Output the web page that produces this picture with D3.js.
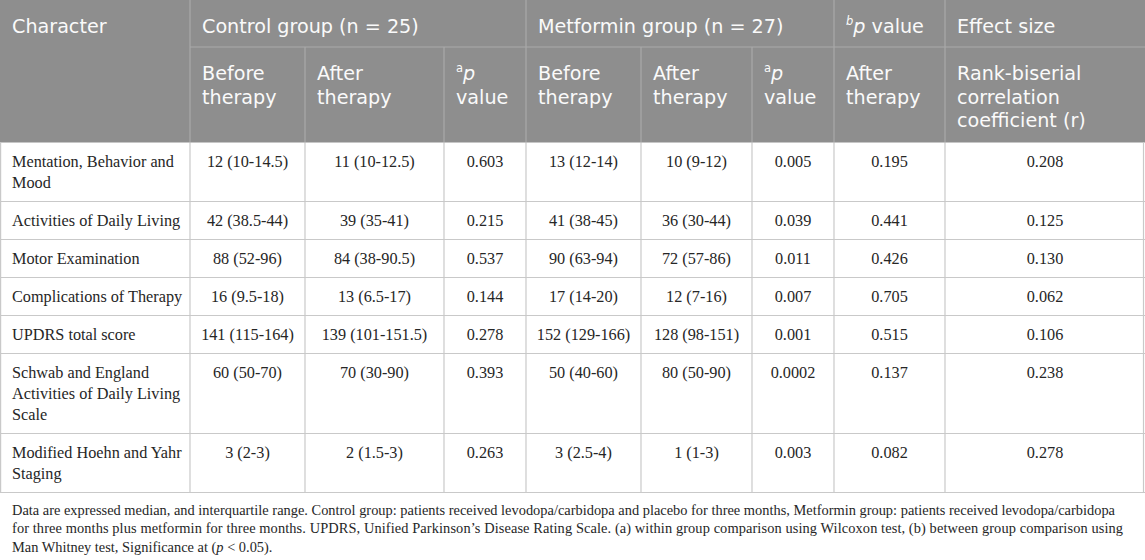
<!DOCTYPE html>
<html><head><meta charset="utf-8">
<script src="https://cdn.jsdelivr.net/npm/d3@7"></script>
<style>body{margin:0;background:#fff;overflow:hidden}</style>
</head><body><svg id="c" width="1145" height="560"></svg>
<script>
// ---------- data ----------
const characters = [
  "Mentation, Behavior and Mood",
  "Activities of Daily Living",
  "Motor Examination",
  "Complications of Therapy",
  "UPDRS total score",
  "Schwab and England Activities of Daily Living Scale",
  "Modified Hoehn and Yahr Staging"
];
const controlBefore = ["12 (10-14.5)","42 (38.5-44)","88 (52-96)","16 (9.5-18)","141 (115-164)","60 (50-70)","3 (2-3)"];
const controlAfter  = ["11 (10-12.5)","39 (35-41)","84 (38-90.5)","13 (6.5-17)","139 (101-151.5)","70 (30-90)","2 (1.5-3)"];
const controlP      = ["0.603","0.215","0.537","0.144","0.278","0.393","0.263"];
const metforminBefore = ["13 (12-14)","41 (38-45)","90 (63-94)","17 (14-20)","152 (129-166)","50 (40-60)","3 (2.5-4)"];
const metforminAfter  = ["10 (9-12)","36 (30-44)","72 (57-86)","12 (7-16)","128 (98-151)","80 (50-90)","1 (1-3)"];
const metforminP      = ["0.005","0.039","0.011","0.007","0.001","0.0002","0.003"];
const betweenP        = ["0.195","0.441","0.426","0.705","0.515","0.137","0.082"];
const effectR         = ["0.208","0.125","0.130","0.062","0.106","0.238","0.278"];

const columnKeys = ["character","cBefore","cAfter","cP","mBefore","mAfter","mP","bP","r"];
const groupHeaders = [
  {label:[[{t:"Character"}]], from:"character"},
  {label:[[{t:"Control group (n = 25)"}]], from:"cBefore"},
  {label:[[{t:"Metformin group (n = 27)"}]], from:"mBefore"},
  {label:[[{t:"b",sup:true,it:true},{t:"p",it:true},{t:" value"}]], from:"bP"},
  {label:[[{t:"Effect size"}]], from:"r"}
];
const subHeaders = [
  {col:"cBefore", label:[[{t:"Before"}],[{t:"therapy"}]]},
  {col:"cAfter",  label:[[{t:"After"}],[{t:"therapy"}]]},
  {col:"cP",      label:[[{t:"a",sup:true},{t:"p",it:true}],[{t:"value"}]]},
  {col:"mBefore", label:[[{t:"Before"}],[{t:"therapy"}]]},
  {col:"mAfter",  label:[[{t:"After"}],[{t:"therapy"}]]},
  {col:"mP",      label:[[{t:"a",sup:true},{t:"p",it:true}],[{t:"value"}]]},
  {col:"bP",      label:[[{t:"After"}],[{t:"therapy"}]]},
  {col:"r",       label:[[{t:"Rank-biserial"}],[{t:"correlation"}],[{t:"coefficient (r)"}]]}
];
const footnoteLines = [
  [{t:"Data are expressed median, and interquartile range. Control group: patients received levodopa/carbidopa and placebo for three months, Metformin group: patients received levodopa/carbidopa"}],
  [{t:"for three months plus metformin for three months. UPDRS, Unified Parkinson\u2019s Disease Rating Scale. (a) within group comparison using Wilcoxon test, (b) between group comparison using"}],
  [{t:"Man Whitney test, Significance at ("},{t:"p",it:true},{t:" < 0.05)."}]
];

// ---------- layout ----------
const W = 1145;
const svg = d3.select("#c");
const colX = d3.scaleOrdinal().domain(columnKeys).range([0,190,305,444,526,641,752,834,945]);
const colR = k => { const i = columnKeys.indexOf(k); return i === columnKeys.length-1 ? W : colX(columnKeys[i+1]); };

const headFont = "'DejaVu Sans', Verdana, sans-serif";
const bodyFont = "'Liberation Serif', 'Times New Roman', serif";
const headBg = "#8e8e8e", headLine = "#a9a9a9", bodyLine = "#c9c9c9", bodyText = "#262626";
const h1 = 47, hTotal = 142.5;
const pad = 12;

function fitSize(font, str, target){
  const t = svg.append("text").attr("font-family",font).attr("font-size",20).text(str);
  const w = t.node().getComputedTextLength(); t.remove();
  return 20*target/w;
}
const headSize = fitSize(headFont, "Control group (n = 25)", 217);
const bodySize = fitSize(bodyFont, "Mentation, Behavior and", 162);

function rich(sel, segs, size){
  let raised = false;
  segs.forEach(s => {
    const ts = sel.append("tspan").text(s.t);
    if (s.it) ts.attr("font-style","italic");
    if (s.sup) { ts.attr("font-size", size*0.6); if(!raised){ ts.attr("dy", -size*0.4); raised = true; } }
    else if (raised) { ts.attr("dy", size*0.4); raised = false; }
  });
}

// header background
svg.append("rect").attr("x",0).attr("y",0).attr("width",W).attr("height",hTotal).attr("fill",headBg);

// header lines
const hl = svg.append("g").attr("stroke",headLine).attr("stroke-width",1.2);
hl.append("line").attr("x1",colX("cBefore")).attr("x2",W).attr("y1",h1).attr("y2",h1);
groupHeaders.slice(1).forEach(g => hl.append("line").attr("x1",colX(g.from)).attr("x2",colX(g.from)).attr("y1",0).attr("y2",hTotal));
subHeaders.forEach(s => {
  if (!groupHeaders.some(g => g.from === s.col))
    hl.append("line").attr("x1",colX(s.col)).attr("x2",colX(s.col)).attr("y1",h1).attr("y2",hTotal);
});

// header text
const hg = svg.append("g").attr("font-family",headFont).attr("font-size",headSize).attr("fill","#fafafa");
groupHeaders.forEach(g => {
  g.label.forEach((ln,i) => {
    const t = hg.append("text").attr("x",colX(g.from)+pad).attr("y",33+i*23.5);
    rich(t, ln, headSize);
  });
});
subHeaders.forEach(s => {
  s.label.forEach((ln,i) => {
    const t = hg.append("text").attr("x",colX(s.col)+pad).attr("y",80+i*23.5);
    rich(t, ln, headSize);
  });
});

// wrap character names
const meas = svg.append("text").attr("font-family",bodyFont).attr("font-size",bodySize);
function wrap(str, maxW){
  const words = str.split(" "); const lines=[]; let cur="";
  words.forEach(w => {
    const test = cur ? cur+" "+w : w;
    meas.text(test);
    if (meas.node().getComputedTextLength() > maxW && cur){ lines.push(cur); cur=w; } else cur=test;
  });
  lines.push(cur); return lines;
}
const wrapped = characters.map(c => wrap(c, 172));
meas.remove();

const lineH = 21, rowPad = 17;
const heights = wrapped.map(l => rowPad + lineH*l.length);
const tops = [hTotal, ...d3.cumsum(heights).map(v => hTotal+v)];
const bottom = tops[tops.length-1];

const rows = characters.map((c,i) => ({
  lines: wrapped[i], top: tops[i], h: heights[i],
  cells: {cBefore:controlBefore[i], cAfter:controlAfter[i], cP:controlP[i], mBefore:metforminBefore[i],
          mAfter:metforminAfter[i], mP:metforminP[i], bP:betweenP[i], r:effectR[i]}
}));

// body grid
const bl = svg.append("g").attr("stroke",bodyLine).attr("stroke-width",1.2);
rows.forEach(r => bl.append("line").attr("x1",0).attr("x2",W).attr("y1",r.top+r.h).attr("y2",r.top+r.h));
columnKeys.forEach(k => { const x = colX(k)+(k==="character"?0.6:0);
  bl.append("line").attr("x1",x).attr("x2",x).attr("y1",hTotal).attr("y2",bottom); });
bl.append("line").attr("x1",W-1.5).attr("x2",W-1.5).attr("y1",hTotal).attr("y2",bottom);

// body text
const g = svg.append("g").attr("font-family",bodyFont).attr("font-size",bodySize).attr("fill",bodyText);
rows.forEach(r => {
  const ch = g.append("text").attr("x",colX("character")+pad);
  const first = r.top + r.h/2 - (r.lines.length-1)*lineH/2 + 5.5;
  r.lines.forEach((ln,i) => ch.append("tspan").attr("x",colX("character")+pad).attr("y",first+i*lineH).text(ln));
  columnKeys.slice(1).forEach(k => {
    g.append("text").attr("x",(colX(k)+colR(k))/2).attr("y",r.top+24.5)
      .attr("text-anchor","middle").text(r.cells[k]);
  });
});

// footnote
const fg = svg.append("g").attr("font-family",bodyFont).attr("fill",bodyText);
const fSize = fitSize(bodyFont, footnoteLines[0][0].t, 1103);
const fTargets = [1103, 1111, null];
footnoteLines.forEach((ln,i) => {
  const t = fg.append("text").attr("x",12).attr("y",bottom+22+i*18.5).attr("font-size",fSize);
  rich(t, ln, fSize);
  if (fTargets[i]) t.attr("textLength", fTargets[i]).attr("lengthAdjust","spacing");
});
</script></body></html>
